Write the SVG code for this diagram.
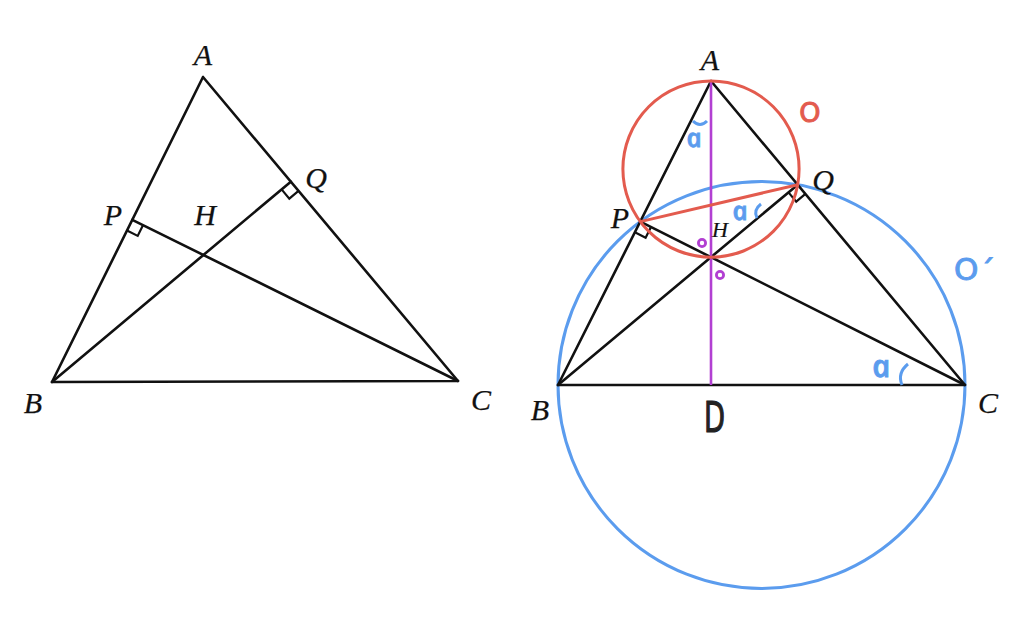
<svg xmlns="http://www.w3.org/2000/svg" width="1024" height="619" viewBox="0 0 1024 619">
<style>
.bk{fill:none;stroke:#111;stroke-width:2.6;stroke-linejoin:round;stroke-linecap:round}
.rm{fill:none;stroke:#111;stroke-width:2.2}
.red{fill:none;stroke:#e35b4e;stroke-width:3}
.blue{fill:none;stroke:#5b9cee;stroke-width:3}
.pur{fill:none;stroke:#b23fd2;stroke-width:2.6}
.lbl{font-family:"Liberation Serif","DejaVu Serif",serif;font-style:italic;font-size:30px;fill:#111;stroke:#111;stroke-width:0.25;text-anchor:middle}
.hand{font-family:"Open Sans","DejaVu Sans",sans-serif;font-style:italic;font-weight:600;fill:#5b9cee;stroke:#5b9cee;stroke-width:0.8}
.mark{font-family:"DejaVu Sans",sans-serif;text-anchor:middle}
</style>
<rect width="1024" height="619" fill="#fff"/>
<g id="left-figure">
  <g id="left-connectors">
    <path class="bk" d="M203,77 L52,382 L458,381 Z"/>
    <path class="bk" d="M52,382 L290.8,181.7"/>
    <path class="bk" d="M458,381 L132.3,219.8"/>
    <path class="rm" d="M127.0,230.6 L137.7,235.9 L143.1,225.1"/>
    <path class="rm" d="M298.5,190.9 L289.3,198.6 L281.6,189.4"/>
  </g>
  <g id="left-A"><text class="lbl" x="203" y="65">A</text></g>
  <g id="left-B"><text class="lbl" x="33" y="413">B</text></g>
  <g id="left-C"><text class="lbl" x="481" y="410">C</text></g>
  <g id="left-P"><text class="lbl" x="113" y="225">P</text></g>
  <g id="left-H"><text class="lbl" x="205" y="225">H</text></g>
  <g id="left-Q"><text class="lbl" x="316" y="188">Q</text></g>
</g>
<g id="right-figure">
  <g id="circle-O-prime"><circle class="blue" cx="761.5" cy="385" r="203.5"/></g>
  <g id="right-connectors">
    <path class="bk" d="M711,81 L558,385 L965,385 Z"/>
    <path class="bk" d="M558,385 L797.7,184.7"/>
    <path class="bk" d="M965,385 L640.3,221.6"/>
    <path class="rm" d="M634.9,232.3 L645.6,237.8 L651.0,227.0"/>
    <path class="rm" d="M805.4,193.9 L796.2,201.6 L788.5,192.4"/>
    <path class="pur" d="M711,81 L711,385"/>
    <path class="red" d="M640.3,221.6 L797.7,184.7"/>
  </g>
  <g id="circle-O"><circle class="red" cx="711" cy="169.1" r="88.1"/></g>
  <g id="angle-marks">
    <path class="blue" d="M693,121 Q700,128 707,121"/>
    <path class="blue" d="M761,204 Q753,210 757,218"/>
    <path class="blue" d="M908,364 Q897,373 902,385"/>
    <circle class="pur" cx="702" cy="243" r="3.6" style="stroke-width:2.8"/>
    <circle class="pur" cx="720" cy="275" r="3.6" style="stroke-width:2.8"/>
  </g>
  <g id="right-A"><text class="lbl" x="710" y="70">A</text></g>
  <g id="right-B"><text class="lbl" x="540" y="420">B</text></g>
  <g id="right-C"><text class="lbl" x="988" y="413">C</text></g>
  <g id="right-P"><text class="lbl" x="620" y="228">P</text></g>
  <g id="right-Q"><text class="lbl" x="823" y="190">Q</text></g>
  <g id="right-H"><text class="lbl" x="720" y="237" style="font-size:22px;stroke-width:0.2">H</text></g>
  <g id="right-D"><text x="704" y="432" textLength="21" lengthAdjust="spacingAndGlyphs" style="font-family:'DejaVu Sans',sans-serif;font-size:42px;fill:#222;stroke:#222;stroke-width:1.2">D</text></g>
  <g id="label-O"><text class="mark" x="810" y="122" style="font-size:27px;fill:#e35b4e;stroke:#e35b4e;stroke-width:1">O</text></g>
  <g id="label-O-prime"><text x="954" y="280" style="font-family:'DejaVu Sans',sans-serif;font-size:31px;fill:#5b9cee;stroke:#5b9cee;stroke-width:1">O<tspan dx="1" dy="2">´</tspan></text></g>
  <g id="label-a1"><text class="hand" transform="translate(688,147) skewX(12)" style="font-size:26px">a</text></g>
  <g id="label-a2"><text class="hand" transform="translate(734,220) skewX(12)" style="font-size:26px">a</text></g>
  <g id="label-a3"><text class="hand" transform="translate(874,377) skewX(12)" style="font-size:31px">a</text></g>
</g>
</svg>
